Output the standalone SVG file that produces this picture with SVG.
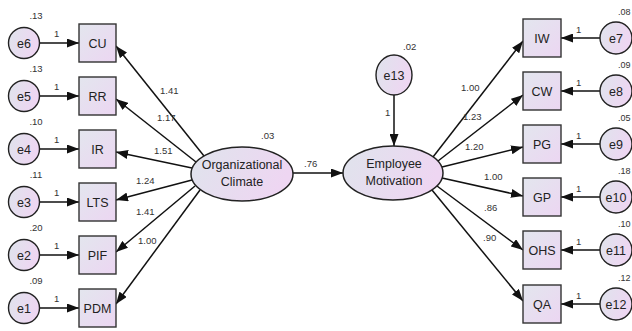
<svg xmlns="http://www.w3.org/2000/svg" width="632" height="331" viewBox="0 0 632 331">
<defs>
<linearGradient id="gb" x1="0" y1="0" x2="1" y2="1"><stop offset="0" stop-color="#e3e6ee"/><stop offset="1" stop-color="#ecd6f2"/></linearGradient>
<linearGradient id="ge" x1="0" y1="0" x2="1" y2="0.3"><stop offset="0" stop-color="#dfe4ec"/><stop offset="1" stop-color="#eed6f2"/></linearGradient>
<marker id="ah" markerUnits="userSpaceOnUse" markerWidth="13" markerHeight="9" refX="12" refY="4.5" orient="auto"><path d="M0,0 L12,4.5 L0,9 Z" fill="#111"/></marker>
</defs>
<style>
.box{fill:url(#gb);stroke:#333;stroke-width:1.4}
.lat{fill:url(#ge);stroke:#222;stroke-width:1.5}
.err{fill:url(#ge);stroke:#222;stroke-width:1.4}
.ln{stroke:#111;stroke-width:1.5;fill:none;marker-end:url(#ah)}
text{font-family:"Liberation Sans",Arial,sans-serif;fill:#222}
.nl{font-size:12.5px;text-anchor:middle}
.sm{font-size:9.5px;fill:#333}
.sc{font-size:9.5px;fill:#333;text-anchor:middle}
.sr{font-size:9px;fill:#333}
</style>
<g id="connectors">
<line class="ln" x1="40" y1="43" x2="79" y2="43"/>
<line class="ln" x1="40" y1="96" x2="79" y2="96"/>
<line class="ln" x1="40" y1="149" x2="79" y2="149"/>
<line class="ln" x1="40" y1="202" x2="79" y2="202"/>
<line class="ln" x1="40" y1="255" x2="79" y2="255"/>
<line class="ln" x1="40" y1="308" x2="79" y2="308"/>
<line class="ln" x1="204" y1="156" x2="116" y2="46"/>
<line class="ln" x1="196" y1="162" x2="116" y2="99"/>
<line class="ln" x1="192" y1="168" x2="116" y2="152"/>
<line class="ln" x1="192" y1="180" x2="116" y2="200"/>
<line class="ln" x1="195" y1="186" x2="116" y2="252"/>
<line class="ln" x1="200" y1="190" x2="116" y2="304"/>
<line class="ln" x1="293" y1="173" x2="343" y2="173"/>
<line class="ln" x1="394" y1="95" x2="394" y2="146"/>
<line class="ln" x1="433" y1="157" x2="523" y2="41"/>
<line class="ln" x1="438" y1="161" x2="523" y2="95"/>
<line class="ln" x1="442" y1="167" x2="523" y2="147"/>
<line class="ln" x1="442" y1="178" x2="523" y2="196"/>
<line class="ln" x1="437" y1="186" x2="523" y2="250"/>
<line class="ln" x1="432" y1="190" x2="523" y2="301"/>
<line class="ln" x1="600" y1="38" x2="561" y2="38"/>
<line class="ln" x1="600" y1="91" x2="561" y2="91"/>
<line class="ln" x1="600" y1="144" x2="561" y2="144"/>
<line class="ln" x1="600" y1="197" x2="561" y2="197"/>
<line class="ln" x1="600" y1="250" x2="561" y2="250"/>
<line class="ln" x1="600" y1="304" x2="561" y2="304"/>
</g>
<g id="labels">
<text class="sm" x="160" y="94">1.41</text>
<text class="sm" x="157" y="121">1.17</text>
<text class="sm" x="154" y="154">1.51</text>
<text class="sm" x="136" y="184">1.24</text>
<text class="sm" x="136" y="215">1.41</text>
<text class="sm" x="138" y="244">1.00</text>
<text class="sm" x="304" y="167">.76</text>
<text class="sm" x="261" y="139">.03</text>
<text class="sm" x="403" y="50">.02</text>
<text class="sm" x="385" y="116">1</text>
<text class="sm" x="461" y="91">1.00</text>
<text class="sm" x="463" y="120">1.23</text>
<text class="sm" x="465" y="150">1.20</text>
<text class="sm" x="484" y="180">1.00</text>
<text class="sm" x="484" y="211">.86</text>
<text class="sm" x="483" y="241">.90</text>
<text class="sm" x="54" y="37">1</text>
<text class="sm" x="54" y="90">1</text>
<text class="sm" x="54" y="143">1</text>
<text class="sm" x="54" y="196">1</text>
<text class="sm" x="54" y="249">1</text>
<text class="sm" x="54" y="302">1</text>
<text class="sc" x="36" y="19">.13</text>
<text class="sc" x="36" y="72">.13</text>
<text class="sc" x="36" y="125">.10</text>
<text class="sc" x="36" y="178">.11</text>
<text class="sc" x="36" y="231">.20</text>
<text class="sc" x="36" y="284">.09</text>
<text class="sm" x="576" y="33">1</text>
<text class="sm" x="576" y="86">1</text>
<text class="sm" x="576" y="139">1</text>
<text class="sm" x="576" y="192">1</text>
<text class="sm" x="576" y="245">1</text>
<text class="sm" x="576" y="299">1</text>
<text class="sr" x="618" y="15">.08</text>
<text class="sr" x="618" y="68">.09</text>
<text class="sr" x="618" y="121">.05</text>
<text class="sr" x="618" y="174">.18</text>
<text class="sr" x="618" y="227">.10</text>
<text class="sr" x="618" y="281">.12</text>
</g>
<g id="e6"><ellipse class="err" cx="24" cy="43" rx="15.5" ry="15.5"/><text class="nl" x="24" y="48">e6</text></g>
<g id="e5"><ellipse class="err" cx="24" cy="96" rx="15.5" ry="15.5"/><text class="nl" x="24" y="101">e5</text></g>
<g id="e4"><ellipse class="err" cx="24" cy="149" rx="15.5" ry="15.5"/><text class="nl" x="24" y="154">e4</text></g>
<g id="e3"><ellipse class="err" cx="24" cy="202" rx="15.5" ry="15.5"/><text class="nl" x="24" y="207">e3</text></g>
<g id="e2"><ellipse class="err" cx="24" cy="255" rx="15.5" ry="15.5"/><text class="nl" x="24" y="260">e2</text></g>
<g id="e1"><ellipse class="err" cx="24" cy="308" rx="15.5" ry="15.5"/><text class="nl" x="24" y="313">e1</text></g>
<g id="CU"><rect class="box" x="79" y="24" width="37" height="38"/><text class="nl" x="97.5" y="48">CU</text></g>
<g id="RR"><rect class="box" x="79" y="77" width="37" height="38"/><text class="nl" x="97.5" y="101">RR</text></g>
<g id="IR"><rect class="box" x="79" y="130" width="37" height="38"/><text class="nl" x="97.5" y="154">IR</text></g>
<g id="LTS"><rect class="box" x="79" y="183" width="37" height="38"/><text class="nl" x="97.5" y="207">LTS</text></g>
<g id="PIF"><rect class="box" x="79" y="236" width="37" height="38"/><text class="nl" x="97.5" y="260">PIF</text></g>
<g id="PDM"><rect class="box" x="79" y="289" width="37" height="38"/><text class="nl" x="97.5" y="313">PDM</text></g>
<g id="OC"><ellipse class="lat" cx="242" cy="174" rx="51" ry="27"/><text class="nl" x="242" y="169">Organizational</text><text class="nl" x="242" y="186">Climate</text></g>
<g id="EM"><ellipse class="lat" cx="393" cy="173" rx="50" ry="27"/><text class="nl" x="394" y="168">Employee</text><text class="nl" x="394" y="185">Motivation</text></g>
<g id="e13"><ellipse class="err" cx="394" cy="75" rx="18" ry="20"/><text class="nl" x="394" y="80">e13</text></g>
<g id="IW"><rect class="box" x="523" y="19" width="38" height="38"/><text class="nl" x="542" y="43">IW</text></g>
<g id="CW"><rect class="box" x="523" y="72" width="38" height="38"/><text class="nl" x="542" y="96">CW</text></g>
<g id="PG"><rect class="box" x="523" y="125" width="38" height="38"/><text class="nl" x="542" y="149">PG</text></g>
<g id="GP"><rect class="box" x="523" y="178" width="38" height="38"/><text class="nl" x="542" y="202">GP</text></g>
<g id="OHS"><rect class="box" x="523" y="231" width="38" height="38"/><text class="nl" x="542" y="255">OHS</text></g>
<g id="QA"><rect class="box" x="523" y="285" width="38" height="38"/><text class="nl" x="542" y="309">QA</text></g>
<g id="e7"><ellipse class="err" cx="616" cy="38" rx="16" ry="16"/><text class="nl" x="616" y="43">e7</text></g>
<g id="e8"><ellipse class="err" cx="616" cy="91" rx="16" ry="16"/><text class="nl" x="616" y="96">e8</text></g>
<g id="e9"><ellipse class="err" cx="616" cy="144" rx="16" ry="16"/><text class="nl" x="616" y="149">e9</text></g>
<g id="e10"><ellipse class="err" cx="616" cy="197" rx="16" ry="16"/><text class="nl" x="616" y="202">e10</text></g>
<g id="e11"><ellipse class="err" cx="616" cy="250" rx="16" ry="16"/><text class="nl" x="616" y="255">e11</text></g>
<g id="e12"><ellipse class="err" cx="616" cy="304" rx="16" ry="16"/><text class="nl" x="616" y="309">e12</text></g>
</svg>
